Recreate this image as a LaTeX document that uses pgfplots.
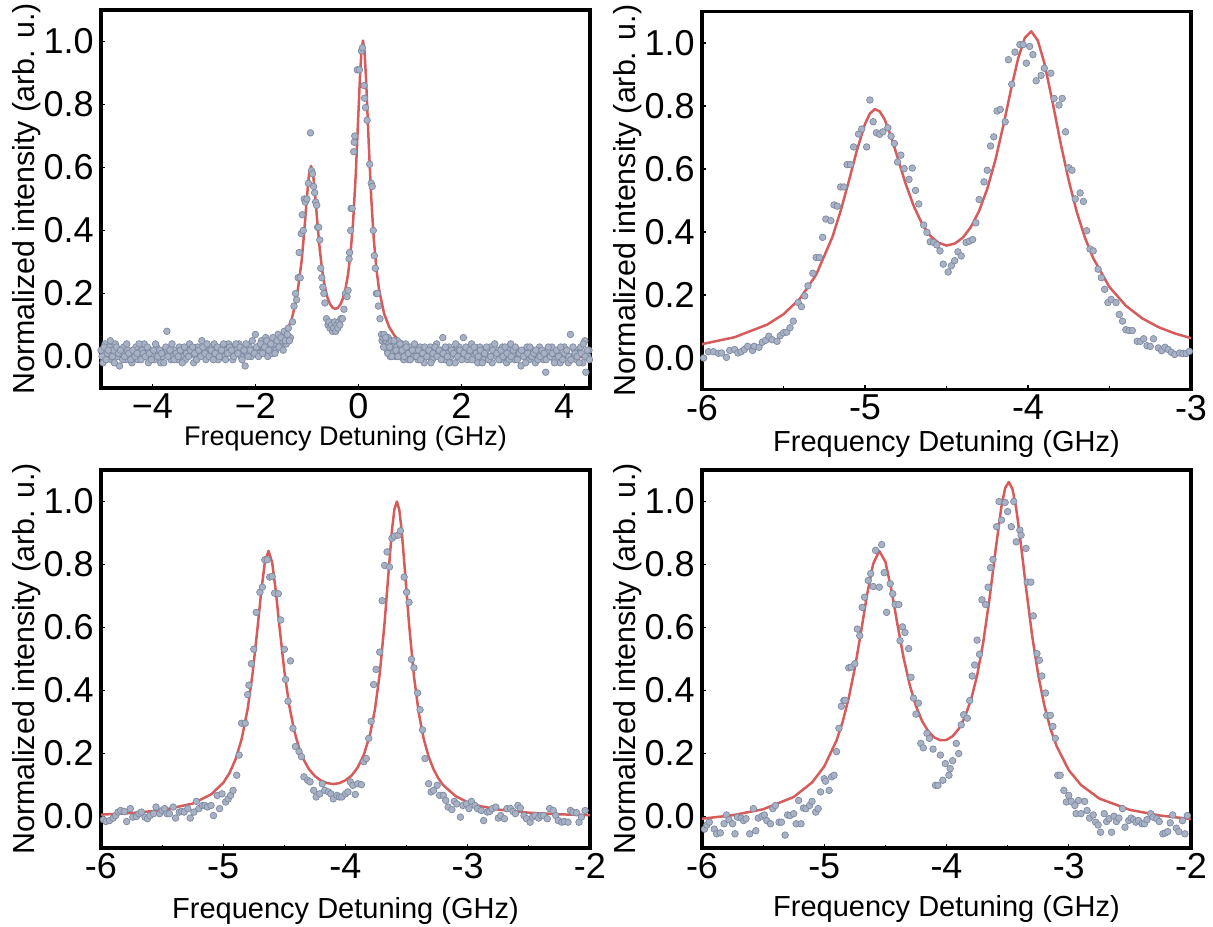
\documentclass[border=0pt]{standalone}
\usepackage{fontspec}
\setmainfont{Liberation Sans}
\usepackage{pgfplots}
\pgfplotsset{compat=1.18}

\definecolor{dotfill}{RGB}{168,178,196}
\definecolor{dotedge}{RGB}{125,138,162}
\definecolor{fitred}{RGB}{214,92,92}

\pgfplotsset{
  panel/.style={
    scale only axis, width=244.5pt, height=189pt, anchor=south west,
    ymin=-0.1, ymax=1.1,
    ytick={0,0.2,0.4,0.6,0.8,1.0},
    yticklabels={0.0,0.2,0.4,0.6,0.8,1.0},
    tick pos=left, tick align=inside,
    major tick length=2pt, minor tick length=1.5pt,
    tick style={black, line width=0.6pt},
    axis line style={line width=1.8pt},
    tick label style={font=\fontsize{18}{18}\selectfont, inner sep=0pt},
    yticklabel style={anchor=east, xshift=-3.5pt},
    xticklabel style={anchor=north, yshift=-2.5pt},
    label style={inner sep=0pt},
    ylabel={Normalized intensity (arb. u.)},
    xlabel={Frequency Detuning (GHz)},
    ylabel style={at={(axis description cs:-0.153,0.5)}, anchor=center,
      font=\fontsize{15.2}{15.2}\selectfont},
    xlabel style={font=\fontsize{14.5}{14.5}\selectfont},
  },
  dots/.style={only marks, mark=*, mark size=1.65pt,
    mark options={fill=dotfill, draw=dotedge, line width=0.35pt}},
  fit/.style={no marks, color=fitred, line width=1.25pt, line join=round},
}

\begin{document}
\begin{tikzpicture}
\useasboundingbox (0,0) rectangle (606.5pt,463pt);

% top left
\begin{axis}[panel, at={(50.5pt,269pt)},
  xmin=-5, xmax=4.5, xtick={-4,-2,0,2,4}, xticklabels={−4,−2,0,2,4},
  xlabel style={at={(axis description cs:0.5,-0.1)}, anchor=north,
    font=\fontsize{13.5}{13.5}\selectfont}]
\addplot[dots] table {
-5.00 0.02
-4.96 -0.02
-4.92 0.04
-4.88 0.01
-4.84 0.03
-4.80 -0.01
-4.76 0.02
-4.72 0.04
-4.68 0.00
-4.64 -0.03
-4.60 0.01
-4.56 0.03
-4.52 -0.01
-4.48 0.02
-4.44 0.00
-4.40 -0.02
-4.36 0.01
-4.32 0.03
-4.28 -0.01
-4.24 0.00
-4.20 0.02
-4.16 0.04
-4.12 0.01
-4.08 -0.02
-4.04 0.02
-4.00 0.00
-3.96 -0.01
-3.92 0.03
-3.88 0.01
-3.84 -0.02
-3.80 0.00
-3.76 0.02
-3.72 0.08
-3.68 0.01
-3.64 -0.01
-3.60 0.00
-3.56 0.02
-3.52 -0.01
-3.48 0.03
-3.44 0.01
-3.40 0.00
-3.36 -0.01
-3.32 0.02
-3.28 0.04
-3.24 0.01
-3.20 -0.02
-3.16 0.00
-3.12 0.03
-3.08 0.01
-3.04 0.05
-3.00 0.02
-2.96 -0.01
-2.92 0.01
-2.88 0.03
-2.84 0.00
-2.80 0.04
-2.76 0.02
-2.72 -0.01
-2.68 0.01
-2.64 0.03
-2.60 0.00
-2.56 0.02
-2.52 0.04
-2.48 0.01
-2.44 -0.01
-2.40 0.03
-2.36 0.02
-2.32 0.04
-2.28 0.00
-2.24 0.02
-2.20 -0.03
-2.16 0.01
-2.12 0.03
-2.08 0.00
-2.04 0.02
-2.00 0.07
-1.96 0.03
-1.92 0.01
-1.88 0.05
-1.84 0.02
-1.80 0.06
-1.76 0.00
-1.72 0.03
-1.68 0.01
-1.64 0.04
-1.60 0.02
-1.56 0.07
-1.52 0.03
-1.48 0.05
-1.44 0.08
-1.40 0.04
-1.36 0.09
-1.32 0.06
-1.28 0.11
-1.25 0.16
-1.22 0.20
-1.20 0.18
-1.17 0.25
-1.15 0.33
-1.13 0.25
-1.11 0.39
-1.09 0.45
-1.07 0.40
-1.05 0.50
-1.03 0.49
-1.00 0.50
-0.97 0.55
-0.93 0.71
-0.91 0.59
-0.89 0.58
-0.87 0.54
-0.85 0.52
-0.83 0.49
-0.81 0.48
-0.79 0.41
-0.77 0.41
-0.75 0.37
-0.73 0.28
-0.71 0.25
-0.69 0.22
-0.67 0.20
-0.65 0.17
-0.62 0.12
-0.59 0.10
-0.57 0.11
-0.55 0.09
-0.52 0.10
-0.50 0.08
-0.48 0.09
-0.46 0.11
-0.44 0.08
-0.42 0.10
-0.40 0.09
-0.38 0.11
-0.36 0.10
-0.34 0.12
-0.31 0.12
-0.28 0.15
-0.25 0.20
-0.22 0.19
-0.20 0.21
-0.18 0.31
-0.17 0.33
-0.15 0.40
-0.14 0.47
-0.12 0.47
-0.09 0.65
-0.08 0.68
-0.07 0.70
-0.02 0.91
0.02 0.91
0.06 0.97
0.08 0.98
0.11 0.86
0.12 0.82
0.14 0.79
0.17 0.75
0.22 0.61
0.25 0.55
0.27 0.54
0.29 0.40
0.31 0.32
0.33 0.28
0.35 0.20
0.37 0.20
0.39 0.16
0.42 0.12
0.45 0.07
0.46 0.05
0.48 0.06
0.50 0.07
0.52 0.04
0.54 0.05
0.56 0.02
0.58 0.06
0.60 0.04
0.62 0.00
0.64 0.05
0.66 0.03
0.68 0.01
0.70 0.04
0.72 0.00
0.74 0.03
0.76 0.05
0.78 0.01
0.80 0.00
0.82 0.03
0.84 0.04
0.86 0.01
0.88 -0.01
0.90 0.02
0.92 0.04
0.94 0.00
0.96 0.02
0.98 -0.01
1.00 0.03
1.04 0.01
1.08 0.00
1.12 0.02
1.16 -0.01
1.20 0.03
1.24 0.01
1.28 -0.02
1.32 0.02
1.36 0.00
1.40 0.03
1.44 -0.01
1.48 0.01
1.52 0.04
1.56 0.00
1.60 0.02
1.64 0.06
1.68 -0.01
1.72 0.01
1.76 0.03
1.80 0.00
1.84 0.02
1.88 -0.02
1.92 0.01
1.96 0.03
2.00 0.00
2.04 0.06
2.08 0.02
2.12 -0.01
2.16 0.01
2.20 0.04
2.24 0.00
2.28 0.02
2.32 -0.02
2.36 0.03
2.40 0.01
2.44 -0.01
2.48 0.02
2.52 0.00
2.56 0.03
2.60 -0.02
2.64 0.01
2.68 0.00
2.72 0.02
2.76 -0.01
2.80 0.03
2.84 0.00
2.88 -0.02
2.92 0.02
2.96 0.04
3.00 0.01
3.04 -0.01
3.08 0.02
3.12 0.00
3.16 -0.03
3.20 0.02
3.24 0.01
3.28 0.03
3.32 -0.01
3.36 0.00
3.40 0.02
3.44 -0.02
3.48 0.01
3.52 0.03
3.56 0.00
3.60 -0.01
3.64 -0.05
3.68 0.02
3.72 0.00
3.76 0.03
3.80 -0.01
3.84 0.01
3.88 0.02
3.92 -0.02
3.96 0.00
4.00 0.03
4.04 0.01
4.08 -0.02
4.12 0.07
4.16 0.00
4.20 0.02
4.24 -0.01
4.28 0.01
4.32 0.03
4.36 -0.02
4.40 0.05
4.42 -0.05
4.46 0.00
4.48 0.02
};
\addplot[dots] table {
-4.98 0.00
-4.94 0.03
-4.90 -0.01
-4.86 0.02
-4.82 0.05
-4.78 0.00
-4.74 -0.02
-4.70 0.03
-4.66 0.01
-4.62 0.02
-4.58 -0.01
-4.54 0.00
-4.50 0.04
-4.46 0.01
-4.42 -0.01
-4.38 0.02
-4.34 0.00
-4.30 0.01
-4.26 0.04
-4.22 -0.01
-4.18 0.01
-4.14 0.00
-4.10 0.03
-4.06 0.01
-4.02 -0.01
-3.98 0.02
-3.94 0.04
-3.90 0.00
-3.86 0.02
-3.82 0.01
-3.78 -0.02
-3.74 0.03
-3.70 0.00
-3.66 0.02
-3.62 0.04
-3.58 -0.01
-3.54 0.01
-3.50 0.00
-3.46 0.02
-3.42 -0.02
-3.38 0.03
-3.34 0.01
-3.30 0.00
-3.26 0.02
-3.22 0.03
-3.18 0.01
-3.14 -0.01
-3.10 0.02
-3.06 0.00
-3.02 0.03
-2.98 0.01
-2.94 0.04
-2.90 0.00
-2.86 0.02
-2.82 -0.01
-2.78 0.01
-2.74 0.03
-2.70 0.00
-2.66 0.02
-2.62 0.04
-2.58 -0.01
-2.54 0.01
-2.50 0.03
-2.46 0.02
-2.42 0.00
-2.38 0.04
-2.34 0.01
-2.30 0.03
-2.26 -0.01
-2.22 0.02
-2.18 0.04
-2.14 0.00
-2.10 0.02
-2.06 0.05
-2.02 0.01
-1.98 0.03
-1.94 0.00
-1.90 0.04
-1.86 0.01
-1.82 0.03
-1.78 0.05
-1.74 0.02
-1.70 0.04
-1.66 0.06
-1.62 0.01
-1.58 0.05
-1.54 0.03
-1.50 0.06
-1.46 0.02
-1.42 0.05
-1.38 0.07
-1.34 0.05
0.49 0.03
0.53 0.06
0.57 0.01
0.61 0.03
0.65 0.00
0.69 0.05
0.73 0.02
0.77 0.00
0.81 0.04
0.85 0.02
0.89 0.00
0.93 0.03
0.97 0.01
1.01 -0.01
1.05 0.02
1.09 0.04
1.13 0.00
1.17 0.02
1.21 -0.01
1.25 0.01
1.29 0.03
1.33 0.00
1.37 0.02
1.41 -0.02
1.45 0.01
1.49 0.03
1.53 0.00
1.57 0.02
1.61 -0.01
1.65 0.01
1.69 0.03
1.73 0.00
1.77 -0.02
1.81 0.02
1.85 0.01
1.89 0.04
1.93 0.00
1.97 0.02
2.01 -0.01
2.05 0.01
2.09 0.03
2.13 0.00
2.17 0.02
2.21 -0.01
2.25 0.03
2.29 0.01
2.33 0.00
2.37 0.02
2.41 -0.02
2.45 0.01
2.49 0.03
2.53 -0.01
2.57 0.00
2.61 0.02
2.65 0.04
2.69 0.01
2.73 -0.01
2.77 0.02
2.81 0.00
2.85 0.03
2.89 0.01
2.93 -0.01
2.97 0.00
3.01 0.02
3.05 0.03
3.09 -0.01
3.13 0.01
3.17 0.02
3.21 0.00
3.25 -0.02
3.29 0.01
3.33 0.03
3.37 0.00
3.41 0.01
3.45 0.02
3.49 -0.01
3.53 0.00
3.57 0.02
3.61 0.01
3.65 -0.01
3.69 0.03
3.73 0.00
3.77 0.01
3.81 -0.02
3.85 0.02
3.89 0.00
3.93 0.03
3.97 -0.01
4.01 0.01
4.05 0.02
4.09 0.00
4.13 -0.01
4.17 0.03
4.21 0.01
4.25 0.00
4.29 -0.02
4.33 0.01
4.37 0.04
4.41 0.00
4.45 0.02
4.49 -0.01
};
\addplot[fit] table {
-5.00 -0.002
-4.00 0.000
-3.00 0.003
-2.50 0.007
-2.00 0.018
-1.75 0.030
-1.50 0.057
-1.40 0.079
-1.30 0.116
-1.20 0.182
-1.10 0.306
-1.05 0.400
-1.00 0.505
-0.96 0.576
-0.92 0.605
-0.88 0.580
-0.84 0.513
-0.80 0.432
-0.75 0.340
-0.70 0.270
-0.65 0.220
-0.60 0.187
-0.55 0.166
-0.50 0.155
-0.45 0.151
-0.40 0.154
-0.35 0.165
-0.30 0.184
-0.25 0.215
-0.20 0.261
-0.15 0.331
-0.10 0.433
-0.05 0.580
0.00 0.769
0.03 0.883
0.06 0.970
0.09 1.003
0.12 0.968
0.15 0.879
0.20 0.682
0.25 0.504
0.30 0.372
0.35 0.279
0.40 0.215
0.50 0.136
0.60 0.093
0.70 0.067
0.80 0.050
1.00 0.031
1.25 0.019
1.50 0.012
2.00 0.005
2.50 0.002
3.00 0.000
4.00 -0.002
4.50 -0.002
};
\end{axis}

% top right
\begin{axis}[panel, at={(351pt,268.25pt)},
  xmin=-6, xmax=-3, xtick={-6,-5,-4,-3}, xticklabels={-6,-5,-4,-3},
  minor xtick={-5.5,-4.5,-3.5},
  xlabel style={at={(axis description cs:0.5,-0.108)}, anchor=north}]
\addplot[dots] table {
-5.99 0.000
-5.96 0.020
-5.93 0.020
-5.90 0.015
-5.88 0.016
-5.85 0.002
-5.83 0.024
-5.80 0.027
-5.78 0.016
-5.76 0.020
-5.74 0.027
-5.72 0.037
-5.69 0.024
-5.68 0.037
-5.65 0.034
-5.63 0.050
-5.61 0.056
-5.59 0.069
-5.57 0.058
-5.54 0.053
-5.52 0.071
-5.50 0.080
-5.48 0.082
-5.46 0.096
-5.44 0.117
-5.41 0.176
-5.39 0.163
-5.37 0.197
-5.35 0.229
-5.32 0.269
-5.30 0.319
-5.28 0.319
-5.26 0.383
-5.24 0.441
-5.21 0.436
-5.19 0.486
-5.17 0.482
-5.15 0.543
-5.13 0.543
-5.11 0.614
-5.09 0.614
-5.07 0.670
-5.04 0.711
-5.02 0.727
-4.99 0.670
-4.97 0.819
-4.95 0.750
-4.93 0.715
-4.91 0.710
-4.89 0.718
-4.86 0.731
-4.84 0.704
-4.82 0.681
-4.80 0.622
-4.78 0.644
-4.76 0.601
-4.73 0.567
-4.71 0.603
-4.69 0.532
-4.67 0.489
-4.64 0.422
-4.62 0.399
-4.60 0.369
-4.58 0.367
-4.56 0.359
-4.54 0.340
-4.52 0.298
-4.49 0.273
-4.47 0.293
-4.45 0.309
-4.43 0.337
-4.41 0.324
-4.38 0.367
-4.36 0.371
-4.34 0.376
-4.32 0.429
-4.30 0.503
-4.27 0.559
-4.25 0.596
-4.23 0.673
-4.21 0.702
-4.19 0.784
-4.17 0.789
-4.14 0.750
-4.12 0.947
-4.10 0.869
-4.08 0.971
-4.05 0.995
-4.03 0.995
-4.01 0.936
-3.99 0.989
-3.97 0.963
-3.95 0.880
-3.92 0.897
-3.90 0.920
-3.86 0.904
-3.84 0.824
-3.81 0.803
-3.79 0.824
-3.77 0.718
-3.75 0.604
-3.73 0.596
-3.71 0.505
-3.68 0.524
-3.66 0.497
-3.64 0.404
-3.62 0.346
-3.60 0.340
-3.57 0.282
-3.55 0.255
-3.53 0.218
-3.51 0.176
-3.49 0.186
-3.46 0.176
-3.44 0.138
-3.42 0.117
-3.40 0.090
-3.38 0.087
-3.36 0.087
-3.33 0.053
-3.31 0.053
-3.29 0.061
-3.27 0.039
-3.25 0.037
-3.23 0.061
-3.20 0.032
-3.18 0.023
-3.16 0.034
-3.14 0.027
-3.12 0.018
-3.10 0.011
-3.07 0.016
-3.05 0.014
-3.03 0.014
-3.01 0.021
};
\addplot[fit] table {
-6.00 0.044
-5.80 0.066
-5.60 0.106
-5.50 0.139
-5.40 0.188
-5.30 0.264
-5.20 0.384
-5.15 0.466
-5.10 0.560
-5.05 0.659
-5.00 0.743
-4.97 0.776
-4.94 0.790
-4.91 0.783
-4.88 0.758
-4.84 0.703
-4.80 0.636
-4.75 0.552
-4.70 0.481
-4.65 0.426
-4.60 0.388
-4.55 0.366
-4.50 0.357
-4.45 0.363
-4.40 0.382
-4.35 0.416
-4.30 0.467
-4.25 0.537
-4.20 0.629
-4.15 0.741
-4.10 0.863
-4.06 0.952
-4.02 1.016
-3.98 1.037
-3.94 1.008
-3.90 0.937
-3.85 0.814
-3.80 0.682
-3.75 0.563
-3.70 0.462
-3.65 0.381
-3.60 0.317
-3.50 0.225
-3.40 0.166
-3.30 0.126
-3.20 0.098
-3.10 0.078
-3.00 0.063
};
\end{axis}

% bottom left
\begin{axis}[panel, at={(50.5pt,39pt)},
  xmin=-6, xmax=-2, xtick={-6,-5,-4,-3,-2}, xticklabels={-6,-5,-4,-3,-2},
  minor xtick={-5.5,-4.5,-3.5,-2.5},
  xlabel style={at={(axis description cs:0.5,-0.13)}, anchor=north}]
\addplot[dots] table {
-5.98 -0.010
-5.96 -0.016
-5.93 -0.013
-5.90 -0.005
-5.88 0.003
-5.86 0.014
-5.84 0.019
-5.81 0.016
-5.79 -0.016
-5.76 0.025
-5.74 -0.002
-5.71 0.000
-5.69 0.009
-5.67 0.014
-5.64 -0.002
-5.62 -0.007
-5.60 0.003
-5.57 0.009
-5.55 0.030
-5.52 0.009
-5.50 0.019
-5.48 0.025
-5.46 0.009
-5.44 0.009
-5.41 0.030
-5.39 -0.005
-5.36 0.014
-5.34 0.016
-5.32 0.014
-5.29 0.025
-5.27 -0.005
-5.24 0.014
-5.22 0.048
-5.20 0.025
-5.17 0.035
-5.15 0.035
-5.13 0.030
-5.10 0.035
-5.08 0.003
-5.05 0.067
-5.03 0.025
-5.01 0.072
-4.98 0.046
-4.96 0.056
-4.94 0.067
-4.92 0.083
-4.89 0.131
-4.87 0.195
-4.85 0.296
-4.82 0.296
-4.80 0.387
-4.79 0.417
-4.77 0.485
-4.75 0.531
-4.73 0.648
-4.70 0.712
-4.68 0.728
-4.66 0.815
-4.64 0.815
-4.62 0.760
-4.60 0.762
-4.58 0.709
-4.55 0.707
-4.53 0.624
-4.50 0.531
-4.49 0.435
-4.47 0.366
-4.45 0.494
-4.43 0.280
-4.41 0.222
-4.38 0.206
-4.36 0.190
-4.34 0.126
-4.31 0.115
-4.29 0.110
-4.26 0.083
-4.24 0.062
-4.21 0.072
-4.19 0.104
-4.17 0.083
-4.14 0.078
-4.12 0.072
-4.10 0.056
-4.07 0.067
-4.05 0.062
-4.03 0.062
-4.00 0.072
-3.98 0.078
-3.96 0.110
-3.94 0.099
-3.92 0.070
-3.90 0.104
-3.87 0.101
-3.85 0.174
-3.83 0.184
-3.81 0.248
-3.79 0.302
-3.77 0.419
-3.75 0.467
-3.72 0.522
-3.70 0.685
-3.68 0.797
-3.66 0.840
-3.64 0.792
-3.62 0.883
-3.60 0.890
-3.57 0.893
-3.55 0.907
-3.52 0.760
-3.50 0.712
-3.48 0.680
-3.46 0.499
-3.44 0.472
-3.41 0.392
-3.39 0.339
-3.37 0.275
-3.35 0.184
-3.32 0.104
-3.30 0.078
-3.28 0.083
-3.25 0.099
-3.23 0.067
-3.20 0.067
-3.18 0.051
-3.16 0.030
-3.13 0.022
-3.11 0.048
-3.09 0.040
-3.06 -0.002
-3.04 0.035
-3.01 0.040
-2.99 0.025
-2.97 0.048
-2.94 0.035
-2.92 0.025
-2.89 0.019
-2.87 -0.013
-2.84 0.014
-2.82 0.016
-2.80 0.025
-2.77 0.030
-2.75 -0.005
-2.73 0.003
-2.70 -0.007
-2.68 0.025
-2.65 0.025
-2.63 0.016
-2.61 0.009
-2.59 0.035
-2.57 0.027
-2.54 0.003
-2.52 -0.007
-2.49 -0.018
-2.47 -0.002
-2.45 0.003
-2.42 -0.005
-2.40 0.003
-2.38 0.003
-2.35 -0.007
-2.33 0.025
-2.30 0.019
-2.28 0.003
-2.26 -0.013
-2.23 -0.018
-2.21 -0.016
-2.18 -0.018
-2.16 0.019
-2.14 0.014
-2.11 0.012
-2.09 -0.018
-2.07 -0.002
-2.04 0.019
};
\addplot[fit] table {
-6.00 0.006
-5.75 0.011
-5.50 0.020
-5.25 0.041
-5.10 0.070
-5.00 0.107
-4.95 0.137
-4.90 0.181
-4.85 0.245
-4.80 0.342
-4.76 0.454
-4.72 0.597
-4.69 0.712
-4.66 0.806
-4.63 0.843
-4.60 0.807
-4.57 0.715
-4.54 0.602
-4.50 0.461
-4.46 0.352
-4.42 0.273
-4.38 0.218
-4.34 0.179
-4.30 0.151
-4.25 0.128
-4.20 0.114
-4.15 0.106
-4.10 0.103
-4.05 0.106
-4.00 0.115
-3.95 0.130
-3.90 0.156
-3.85 0.196
-3.80 0.259
-3.76 0.338
-3.72 0.453
-3.68 0.616
-3.65 0.765
-3.62 0.909
-3.60 0.975
-3.58 1.000
-3.56 0.974
-3.54 0.906
-3.51 0.761
-3.48 0.610
-3.44 0.445
-3.40 0.327
-3.36 0.246
-3.32 0.190
-3.28 0.150
-3.24 0.121
-3.20 0.099
-3.10 0.065
-3.00 0.045
-2.90 0.033
-2.75 0.022
-2.50 0.012
-2.25 0.007
-2.00 0.004
};
\end{axis}

% bottom right
\begin{axis}[panel, at={(351pt,39pt)},
  xmin=-6, xmax=-2, xtick={-6,-5,-4,-3,-2}, xticklabels={-6,-5,-4,-3,-2},
  minor xtick={-5.5,-4.5,-3.5,-2.5},
  xlabel style={at={(axis description cs:0.5,-0.124)}, anchor=north}]
\addplot[dots] table {
-5.98 -0.040
-5.96 -0.027
-5.94 -0.018
-5.90 -0.040
-5.88 -0.055
-5.85 -0.052
-5.82 -0.023
-5.80 0.005
-5.78 -0.010
-5.75 -0.023
-5.73 -0.055
-5.71 -0.002
-5.68 -0.005
-5.66 -0.013
-5.64 -0.007
-5.61 -0.055
-5.58 0.025
-5.56 -0.045
-5.54 -0.005
-5.51 0.001
-5.49 0.005
-5.47 -0.013
-5.44 -0.023
-5.42 0.025
-5.40 0.035
-5.37 -0.018
-5.35 -0.018
-5.32 -0.059
-5.30 0.005
-5.28 0.003
-5.25 0.009
-5.23 -0.023
-5.21 0.051
-5.19 -0.023
-5.17 0.027
-5.15 0.025
-5.12 0.035
-5.10 0.048
-5.07 0.014
-5.05 0.025
-5.03 0.078
-5.00 0.120
-4.99 0.112
-4.96 0.083
-4.94 0.126
-4.92 0.131
-4.90 0.206
-4.88 0.280
-4.86 0.350
-4.84 0.368
-4.83 0.369
-4.80 0.472
-4.78 0.474
-4.75 0.485
-4.73 0.595
-4.71 0.574
-4.69 0.664
-4.67 0.696
-4.64 0.749
-4.62 0.771
-4.60 0.730
-4.58 0.845
-4.55 0.728
-4.53 0.863
-4.51 0.774
-4.49 0.648
-4.46 0.739
-4.44 0.707
-4.42 0.673
-4.39 0.673
-4.38 0.558
-4.36 0.602
-4.34 0.584
-4.31 0.533
-4.29 0.442
-4.27 0.376
-4.25 0.325
-4.23 0.360
-4.21 0.232
-4.19 0.218
-4.16 0.264
-4.14 0.248
-4.11 0.214
-4.09 0.099
-4.07 0.099
-4.05 0.195
-4.03 0.115
-4.01 0.168
-3.98 0.131
-3.97 0.152
-3.95 0.177
-3.92 0.232
-3.90 0.200
-3.88 0.291
-3.86 0.323
-3.83 0.312
-3.81 0.368
-3.79 0.446
-3.77 0.481
-3.75 0.560
-3.73 0.515
-3.71 0.688
-3.68 0.673
-3.66 0.728
-3.64 0.790
-3.62 0.816
-3.59 0.920
-3.57 1.000
-3.55 0.941
-3.52 0.997
-3.50 0.968
-3.47 0.920
-3.45 1.000
-3.43 0.872
-3.40 0.909
-3.39 0.893
-3.35 0.851
-3.34 0.744
-3.31 0.744
-3.29 0.637
-3.26 0.517
-3.24 0.496
-3.22 0.446
-3.19 0.392
-3.18 0.321
-3.15 0.321
-3.13 0.286
-3.11 0.248
-3.09 0.131
-3.07 0.131
-3.04 0.083
-3.02 0.046
-3.00 0.067
-2.98 0.048
-2.95 0.035
-2.94 0.009
-2.92 0.051
-2.90 0.009
-2.87 0.048
-2.85 0.019
-2.83 -0.005
-2.80 0.005
-2.78 -0.018
-2.76 -0.027
-2.74 -0.050
-2.71 0.009
-2.69 -0.016
-2.67 -0.007
-2.65 -0.050
-2.63 0.001
-2.61 -0.016
-2.59 -0.005
-2.56 0.025
-2.54 -0.034
-2.51 -0.013
-2.49 -0.005
-2.47 -0.010
-2.45 -0.018
-2.43 -0.013
-2.40 -0.023
-2.38 -0.023
-2.36 -0.010
-2.33 0.009
-2.31 -0.002
-2.28 -0.007
-2.26 -0.016
-2.23 -0.055
-2.21 -0.052
-2.19 -0.048
-2.17 -0.020
-2.15 0.005
-2.12 -0.037
-2.10 -0.048
-2.07 -0.013
-2.05 -0.055
-2.03 0.003
};
\addplot[fit] table {
-6.00 -0.007
-5.75 0.004
-5.50 0.023
-5.25 0.062
-5.10 0.108
-5.00 0.159
-4.90 0.241
-4.85 0.300
-4.80 0.376
-4.75 0.471
-4.70 0.584
-4.65 0.704
-4.60 0.802
-4.55 0.843
-4.50 0.809
-4.45 0.718
-4.40 0.607
-4.35 0.502
-4.30 0.416
-4.25 0.351
-4.20 0.303
-4.15 0.271
-4.10 0.251
-4.05 0.242
-4.00 0.243
-3.95 0.255
-3.90 0.278
-3.85 0.316
-3.80 0.370
-3.75 0.447
-3.70 0.552
-3.65 0.686
-3.60 0.842
-3.55 0.986
-3.52 1.043
-3.49 1.062
-3.46 1.039
-3.43 0.978
-3.40 0.892
-3.35 0.728
-3.30 0.575
-3.25 0.450
-3.20 0.353
-3.15 0.279
-3.10 0.224
-3.00 0.147
-2.90 0.100
-2.75 0.057
-2.50 0.021
-2.25 0.003
-2.00 -0.008
};
\end{axis}
\end{tikzpicture}
\end{document}
